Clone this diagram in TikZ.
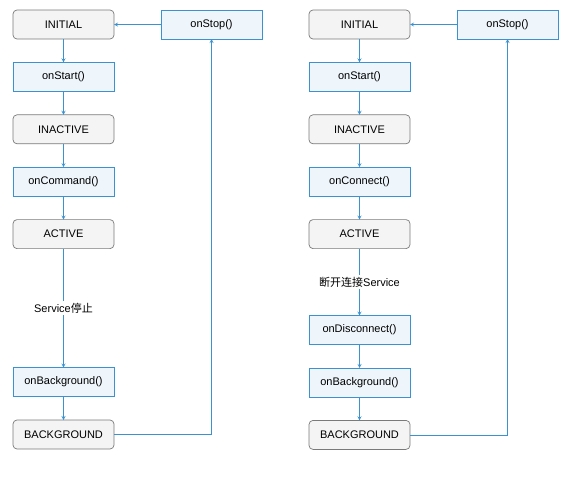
\documentclass[tikz,border=0pt]{standalone}
\usepackage{fontspec}
\setmainfont{Liberation Sans}
\newfontfamily\cjk{Noto Sans CJK SC}
\usepackage{xcolor}
\usetikzlibrary{shapes,arrows,positioning,calc}

\definecolor{lineblue}{HTML}{3C92D0}
\definecolor{methodfill}{HTML}{EEF6FC}
\definecolor{statefill}{HTML}{F4F4F4}
\definecolor{stateline}{HTML}{7A7A7A}

\begin{document}
\begin{tikzpicture}[
    x=1pt, y=1pt,
    node distance=23.4pt,
    font=\fontsize{11}{13}\selectfont,
    state/.style={rectangle, draw=stateline, fill=statefill, line width=0.7pt, outer sep=0pt, minimum width=101pt, minimum height=29pt, text centered, rounded corners=4pt},
    method/.style={rectangle, draw=lineblue, fill=methodfill, line width=0.7pt, outer sep=0pt, minimum width=101pt, minimum height=29pt, text centered},
    arrow/.style={->, >=stealth, draw=lineblue, line width=0.8pt},
    note/.style={fill=white, inner sep=2pt}
]
    \useasboundingbox (0,0) rectangle (570,-482);

    % Left lifecycle
    \node[state] (initA) at (63.5,-24.5) {INITIAL};
    \node[method, right=47pt of initA] (stopA) {onStop()};
    \node[method, below=of initA] (startA) {onStart()};
    \node[state, below=of startA] (inactiveA) {INACTIVE};
    \node[method, below=of inactiveA] (commandA) {onCommand()};
    \node[state, below=of commandA] (activeA) {ACTIVE};
    \node[method, below=119pt of activeA] (backA) {onBackground()};
    \node[state, below=of backA] (bgA) {BACKGROUND};

    % Right lifecycle
    \node[state] (initB) at (359.5,-24.5) {INITIAL};
    \node[method, right=47pt of initB] (stopB) {onStop()};
    \node[method, below=of initB] (startB) {onStart()};
    \node[state, below=of startB] (inactiveB) {INACTIVE};
    \node[method, below=of inactiveB] (connectB) {onConnect()};
    \node[state, below=of connectB] (activeB) {ACTIVE};
    \node[method, below=67pt of activeB] (disconnectB) {onDisconnect()};
    \node[method, below=of disconnectB] (backB) {onBackground()};
    \node[state, below=of backB] (bgB) {BACKGROUND};

    % Arrows
    \draw[arrow] (initA) -- (startA);
    \draw[arrow] (startA) -- (inactiveA);
    \draw[arrow] (inactiveA) -- (commandA);
    \draw[arrow] (commandA) -- (activeA);
    \draw[arrow] (activeA) -- node[note] (stopLabel) {Service{\cjk 停止}} (backA);
    \draw[arrow] (backA) -- (bgA);
    \draw[arrow] (bgA) -| (stopA);
    \draw[arrow] (stopA) -- (initA);

    \draw[arrow] (initB) -- (startB);
    \draw[arrow] (startB) -- (inactiveB);
    \draw[arrow] (inactiveB) -- (connectB);
    \draw[arrow] (connectB) -- (activeB);
    \draw[arrow] (activeB) -- node[note] (cutLabel) {{\cjk 断开连接}Service} (disconnectB);
    \draw[arrow] (disconnectB) -- (backB);
    \draw[arrow] (backB) -- (bgB);
    \draw[arrow] (bgB) -| (stopB);
    \draw[arrow] (stopB) -- (initB);
\end{tikzpicture}
\end{document}
